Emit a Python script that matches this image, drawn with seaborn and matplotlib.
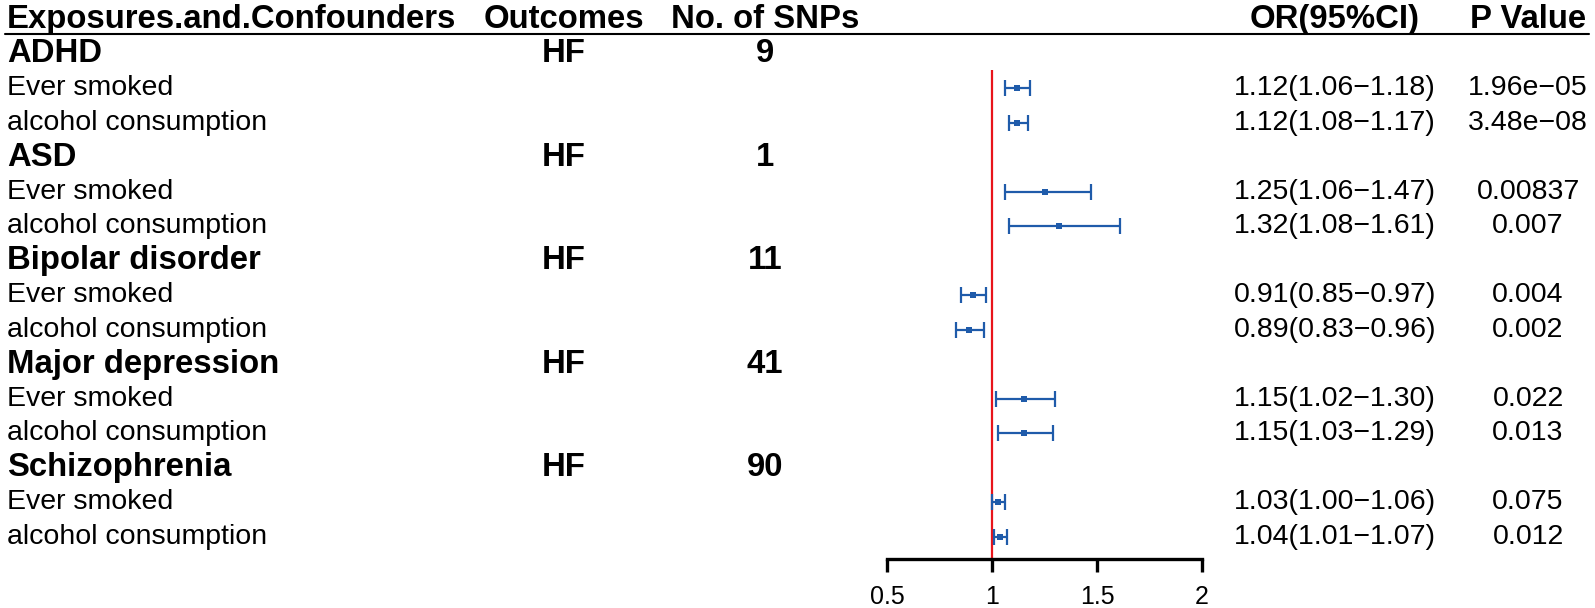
import matplotlib
matplotlib.use("Agg")
import matplotlib.pyplot as plt
import matplotlib.transforms as mtransforms
from matplotlib.lines import Line2D
import seaborn as sns
import pandas as pd

# ---- data ----
groups = ['ADHD', 'ASD', 'Bipolar disorder', 'Major depression', 'Schizophrenia']
outcome = 'HF'
n_snps = [9, 1, 11, 41, 90]
exposures = ['Ever smoked', 'alcohol consumption']

or_vals = [1.12, 1.12, 1.25, 1.32, 0.91, 0.89, 1.15, 1.15, 1.03, 1.04]
ci_low = [1.06, 1.08, 1.06, 1.08, 0.85, 0.83, 1.02, 1.03, 1.00, 1.01]
ci_high = [1.18, 1.17, 1.47, 1.61, 0.97, 0.96, 1.30, 1.29, 1.06, 1.07]
p_text = ['1.96e\u221205', '3.48e\u221208', '0.00837', '0.007', '0.004',
          '0.002', '0.022', '0.013', '0.075', '0.012']
x_ticks = [0.5, 1, 1.5, 2]

# row layout: header = row 0, each group label followed by its two exposures
rows = []
for g, grp in enumerate(groups):
    for e, expo in enumerate(exposures):
        rows.append({'group': grp, 'exposure': expo, 'row': 2 + 3 * g + e})
df = pd.DataFrame(rows)
df['OR'] = or_vals
df['lo'] = ci_low
df['hi'] = ci_high
df['p'] = p_text

sns.set_theme(style='white')
plt.rcParams['font.family'] = ['Liberation Sans', 'DejaVu Sans']

W, H = 1595, 608
fig = plt.figure(figsize=(W / 100, H / 100), dpi=100)

# forest panel: x in OR units, y in row units
x0, x1 = 887, 1202
top_row_px, row_h, axis_px = 19.2, 34.5, 559
r_top = (0 - top_row_px) / row_h
r_bot = (axis_px - top_row_px) / row_h
ax = fig.add_axes([x0 / W, (H - axis_px) / H, (x1 - x0) / W, axis_px / H])
ax.set_xlim(0.5, 2.0)
ax.set_ylim(r_bot, r_top)
ax.patch.set_alpha(0)

blue = '#1F5BAA'
ax.vlines(1, 1.48, r_bot, color='#E8141B', lw=1.6, zorder=1)
ax.errorbar(df['OR'], df['row'], xerr=[df['OR'] - df['lo'], df['hi'] - df['OR']],
            fmt='none', ecolor=blue, elinewidth=1.6, capsize=6, capthick=1.6, zorder=2)
sns.scatterplot(data=df, x='OR', y='row', marker='s', s=24, color=blue,
                edgecolor=blue, linewidth=0, ax=ax, zorder=3, legend=False)

for side in ['top', 'right', 'left']:
    ax.spines[side].set_visible(False)
ax.spines['bottom'].set_linewidth(2.4)
ax.spines['bottom'].set_color('black')
ax.set_xticks(x_ticks)
ax.set_xticklabels(['0.5', '1', '1.5', '2'])
ax.tick_params(axis='x', direction='out', length=9.5, width=2.4, colors='black',
               labelsize=18, pad=9, bottom=True)
ax.set_yticks([])
ax.set_xlabel('')
ax.set_ylabel('')

# text columns, x in figure pixels, y in row units
trans = mtransforms.blended_transform_factory(fig.transFigure, ax.transData)
col_left, col_out, col_snp, col_or, col_p = 7, 564, 765, 1335, 1528
big, small = 23.7, 20.5

def put(xpx, row, s, ha='center', bold=False, size=small):
    ax.text(xpx / W, row, s, transform=trans, ha=ha, va='center', fontsize=size,
            fontweight='bold' if bold else 'normal', color='black', clip_on=False)

put(col_left, 0, 'Exposures.and.Confounders', ha='left', bold=True, size=big)
put(col_out, 0, 'Outcomes', bold=True, size=big)
put(col_snp, 0, 'No. of SNPs', bold=True, size=big)
put(col_or, 0, 'OR(95%CI)', bold=True, size=big)
put(col_p, 0, 'P Value', bold=True, size=big)

for g, grp in enumerate(groups):
    r = 1 + 3 * g
    put(col_left, r, grp, ha='left', bold=True, size=big)
    put(col_out, r, outcome, bold=True, size=big)
    put(col_snp, r, str(n_snps[g]), bold=True, size=big)

for _, d in df.iterrows():
    put(col_left, d['row'], d['exposure'], ha='left')
    put(col_or, d['row'], f"{d['OR']:.2f}({d['lo']:.2f}\u2212{d['hi']:.2f})")
    put(col_p, d['row'], d['p'])

# header underline
fig.add_artist(Line2D([5 / W, 1589 / W], [1 - 34 / H, 1 - 34 / H],
                      transform=fig.transFigure, color='black', lw=1.5))

fig.savefig('out.png', dpi=100)
